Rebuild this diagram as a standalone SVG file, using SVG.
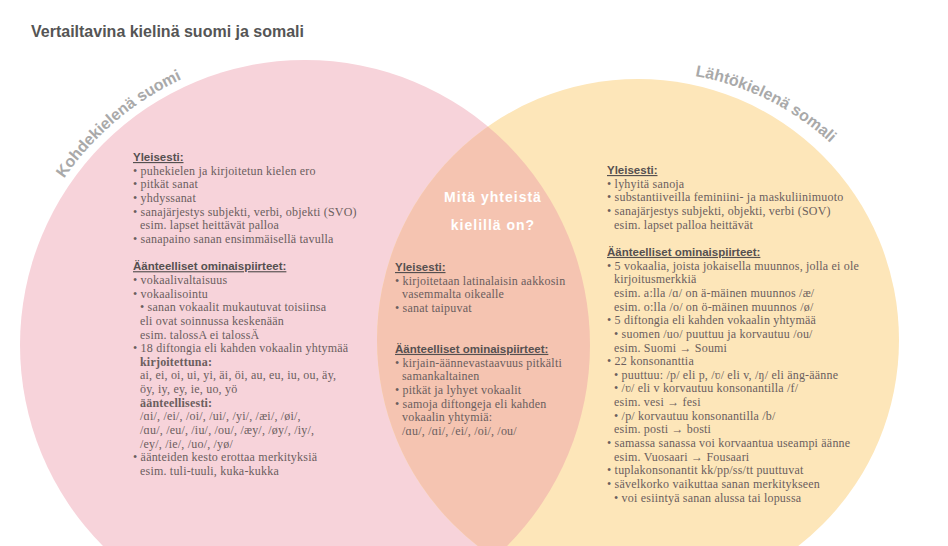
<svg xmlns="http://www.w3.org/2000/svg" width="948" height="546" viewBox="0 0 948 546">
<defs>
<style>
.title{font-family:"Liberation Sans",Arial,sans-serif;font-weight:bold;font-size:16px;fill:#555555}
.arc{font-family:"Liberation Sans",Arial,sans-serif;font-weight:bold;font-size:16px;fill:#a9a9a9}
.h{font-family:"Liberation Sans",Arial,sans-serif;font-weight:bold;font-size:11.5px;fill:#555050;text-decoration:underline}
.b{font-family:"Liberation Serif","DejaVu Serif",serif;font-size:12px;letter-spacing:0.2px;fill:#6b5e5e}
.bb{font-family:"Liberation Serif","DejaVu Serif",serif;font-size:12px;letter-spacing:0.2px;font-weight:bold;fill:#6b5e5e}
.q{font-family:"Liberation Sans",Arial,sans-serif;font-weight:bold;font-size:14px;fill:#ffffff;letter-spacing:1px}
</style>
<clipPath id="pinkClip"><circle cx="305" cy="345" r="285"/></clipPath>
<path id="arcL" d="M 46.3,207.4 A 293 293 0 0 1 254.1,56.5"/>
<path id="arcR" d="M 695,76 A 270 270 0 0 1 860,175"/>
</defs>
<rect width="948" height="546" fill="#ffffff"/>
<g id="circle-suomi"><circle cx="305" cy="345" r="285" fill="#f7d3da"/></g>
<g id="circle-somali"><circle cx="638" cy="340" r="261" fill="#fde6b9"/></g>
<g id="overlap"><circle cx="638" cy="340" r="261" fill="#f5c4b1" clip-path="url(#pinkClip)"/></g>
<g id="title"><text class="title" x="31" y="37">Vertailtavina kielinä suomi ja somali</text></g>
<g id="label-suomi"><text class="arc"><textPath href="#arcL" startOffset="34">Kohdekielenä suomi</textPath></text></g>
<g id="label-somali"><text class="arc"><textPath href="#arcR">Lähtökielenä somali</textPath></text></g>
<g id="suomi-text">
<text class="h" x="133" y="161">Yleisesti:</text>
<text class="b" x="133" y="174.7">• puhekielen ja kirjoitetun kielen ero</text>
<text class="b" x="133" y="188.3">• pitkät sanat</text>
<text class="b" x="133" y="202">• yhdyssanat</text>
<text class="b" x="133" y="215.6">• sanajärjestys subjekti, verbi, objekti (SVO)</text>
<text class="b" x="140" y="229.3">esim. lapset heittävät palloa</text>
<text class="b" x="133" y="242.9">• sanapaino sanan ensimmäisellä tavulla</text>
<text class="h" x="133" y="270.2">Äänteelliset ominaispiirteet:</text>
<text class="b" x="133" y="283.9">• vokaalivaltaisuus</text>
<text class="b" x="133" y="297.5">• vokaalisointu</text>
<text class="b" x="140" y="311.2">• sanan vokaalit mukautuvat toisiinsa</text>
<text class="b" x="140" y="324.8">eli ovat soinnussa keskenään</text>
<text class="b" x="140" y="338.5">esim. talossA ei talossÄ</text>
<text class="b" x="133" y="352.1">• 18 diftongia eli kahden vokaalin yhtymää</text>
<text class="bb" x="140" y="365.8">kirjoitettuna:</text>
<text class="b" x="140" y="379.4">ai, ei, oi, ui, yi, äi, öi, au, eu, iu, ou, äy,</text>
<text class="b" x="140" y="393">öy, iy, ey, ie, uo, yö</text>
<text class="bb" x="140" y="406.7">äänteellisesti:</text>
<text class="b" x="140" y="420.4">/ɑi/, /ei/, /oi/, /ui/, /yi/, /æi/, /øi/,</text>
<text class="b" x="140" y="434">/ɑu/, /eu/, /iu/, /ou/, /æy/, /øy/, /iy/,</text>
<text class="b" x="140" y="447.7">/ey/, /ie/, /uo/, /yø/</text>
<text class="b" x="133" y="461.3">• äänteiden kesto erottaa merkityksiä</text>
<text class="b" x="140" y="475">esim. tuli-tuuli, kuka-kukka</text>
</g>
<g id="yhteista-text">
<text class="q" x="493" y="202" text-anchor="middle">Mitä yhteistä</text>
<text class="q" x="493" y="230" text-anchor="middle">kielillä on?</text>
<text class="h" x="395" y="271">Yleisesti:</text>
<text class="b" x="395" y="284.7">• kirjoitetaan latinalaisin aakkosin</text>
<text class="b" x="402" y="298.3">vasemmalta oikealle</text>
<text class="b" x="395" y="312">• sanat taipuvat</text>
<text class="h" x="395" y="352.9">Äänteelliset ominaispiirteet:</text>
<text class="b" x="395" y="366.6">• kirjain-äännevastaavuus pitkälti</text>
<text class="b" x="402" y="380.2">samankaltainen</text>
<text class="b" x="395" y="393.9">• pitkät ja lyhyet vokaalit</text>
<text class="b" x="395" y="407.5">• samoja diftongeja eli kahden</text>
<text class="b" x="402" y="421.2">vokaalin yhtymiä:</text>
<text class="b" x="402" y="434.8">/ɑu/, /ɑi/, /ei/, /oi/, /ou/</text>
</g>
<g id="somali-text">
<text class="h" x="607" y="174">Yleisesti:</text>
<text class="b" x="607" y="187.7">• lyhyitä sanoja</text>
<text class="b" x="607" y="201.3">• substantiiveilla feminiini- ja maskuliinimuoto</text>
<text class="b" x="607" y="215">• sanajärjestys subjekti, objekti, verbi (SOV)</text>
<text class="b" x="614" y="228.6">esim. lapset palloa heittävät</text>
<text class="h" x="607" y="255.9">Äänteelliset ominaispiirteet:</text>
<text class="b" x="607" y="269.6">• 5 vokaalia, joista jokaisella muunnos, jolla ei ole</text>
<text class="b" x="614" y="283.2">kirjoitusmerkkiä</text>
<text class="b" x="614" y="296.9">esim. a:lla /ɑ/ on ä-mäinen muunnos /æ/</text>
<text class="b" x="614" y="310.5">esim. o:lla /o/ on ö-mäinen muunnos /ø/</text>
<text class="b" x="607" y="324.2">• 5 diftongia eli kahden vokaalin yhtymää</text>
<text class="b" x="614" y="337.8">• suomen /uo/ puuttuu ja korvautuu /ou/</text>
<text class="b" x="614" y="351.5">esim. Suomi → Soumi</text>
<text class="b" x="607" y="365.1">• 22 konsonanttia</text>
<text class="b" x="614" y="378.8">• puuttuu: /p/ eli p, /ʋ/ eli v, /ŋ/ eli äng-äänne</text>
<text class="b" x="614" y="392.4">• /ʋ/ eli v korvautuu konsonantilla /f/</text>
<text class="b" x="614" y="406.1">esim. vesi → fesi</text>
<text class="b" x="614" y="419.7">• /p/ korvautuu konsonantilla /b/</text>
<text class="b" x="614" y="433.4">esim. posti → bosti</text>
<text class="b" x="607" y="447">• samassa sanassa voi korvaantua useampi äänne</text>
<text class="b" x="614" y="460.7">esim. Vuosaari → Fousaari</text>
<text class="b" x="607" y="474.3">• tuplakonsonantit kk/pp/ss/tt puuttuvat</text>
<text class="b" x="607" y="488">• sävelkorko vaikuttaa sanan merkitykseen</text>
<text class="b" x="614" y="501.6">• voi esiintyä sanan alussa tai lopussa</text>
</g>
</svg>
